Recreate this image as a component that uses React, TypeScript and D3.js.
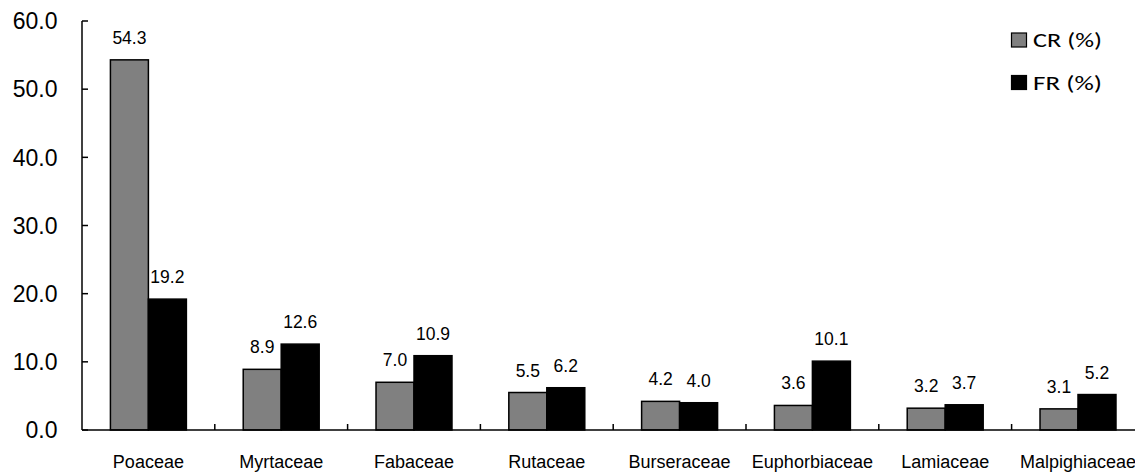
import React from "react";
import * as d3 from "d3";

// Plant families and their CR / FR percentages
const families = [
  "Poaceae",
  "Myrtaceae",
  "Fabaceae",
  "Rutaceae",
  "Burseraceae",
  "Euphorbiaceae",
  "Lamiaceae",
  "Malpighiaceae",
];
const crValues = [54.3, 8.9, 7.0, 5.5, 4.2, 3.6, 3.2, 3.1];
const frValues = [19.2, 12.6, 10.9, 6.2, 4.0, 10.1, 3.7, 5.2];
const seriesNames = ["CR (%)", "FR (%)"];
const seriesColors = ["#808080", "#000000"];
const yTicks = [0, 10, 20, 30, 40, 50, 60];

const W = 1135;
const H = 472;
const left = 82;
const top = 21;
const bottom = 430;
const bandW = 132.8;

export default function App() {
  const x = d3
    .scaleBand<string>()
    .domain(families)
    .range([left, left + bandW * families.length])
    .paddingInner(0)
    .paddingOuter(0);
  const y = d3.scaleLinear().domain([0, 60]).range([bottom, top]);
  const barW = x.bandwidth() * 0.286;
  const inner = d3
    .scaleBand<number>()
    .domain([0, 1])
    .range([x.bandwidth() / 2 - barW, x.bandwidth() / 2 + barW]);

  const series = [crValues, frValues];
  const arial = "Arial, 'Liberation Sans', sans-serif";

  return (
    <svg
      width={W}
      height={H}
      style={{ position: "absolute", left: 0, top: 0, background: "#fff" }}
    >
      <rect x={0} y={0} width={W} height={H} fill="#fff" />

      {/* bars */}
      {families.map((f, i) => (
        <g key={f} transform={`translate(${x(f)},0)`}>
          {series.map((vals, s) => (
            <g key={s}>
              <rect
                x={inner(s)}
                y={y(vals[i])}
                width={inner.bandwidth()}
                height={y(0) - y(vals[i])}
                fill={seriesColors[s]}
                stroke="#000"
                strokeWidth={1.5}
              />
              <text
                x={(inner(s) as number) + inner.bandwidth() / 2}
                y={y(vals[i]) - 16}
                textAnchor="middle"
                fontFamily={arial}
                fontSize={17.5}
                fill="#000"
              >
                {vals[i].toFixed(1)}
              </text>
            </g>
          ))}
        </g>
      ))}

      {/* y axis */}
      <line x1={left} x2={left} y1={y(60)} y2={y(0)} stroke="#000" strokeWidth={1.5} />
      {yTicks.map((t) => (
        <g key={t}>
          <line x1={left} x2={left + 6} y1={y(t)} y2={y(t)} stroke="#000" strokeWidth={1.5} />
          <text
            x={57.5}
            y={y(t)}
            dy="0.36em"
            textAnchor="end"
            fontFamily={arial}
            fontSize={23}
            fill="#000"
          >
            {t.toFixed(1)}
          </text>
        </g>
      ))}

      {/* x axis */}
      <line x1={left} x2={W} y1={y(0)} y2={y(0)} stroke="#000" strokeWidth={1.5} />
      {families.slice(1).map((f) => (
        <line
          key={f}
          x1={x(f)}
          x2={x(f)}
          y1={y(0)}
          y2={y(0) - 6}
          stroke="#000"
          strokeWidth={1.5}
        />
      ))}
      {families.map((f) => (
        <text
          key={f}
          x={(x(f) as number) + x.bandwidth() / 2}
          y={468}
          textAnchor="middle"
          fontFamily={arial}
          fontSize={18}
          fill="#000"
        >
          {f}
        </text>
      ))}

      {/* legend */}
      {seriesNames.map((name, s) => (
        <g key={name} transform={`translate(1011.5,${33 + s * 42.5})`}>
          <rect
            x={0}
            y={0}
            width={15}
            height={14}
            fill={seriesColors[s]}
            stroke="#000"
            strokeWidth={1.2}
          />
          <text
            x={21.5}
            y={14}
            fontFamily="Calibri, Carlito, 'Open Sans', sans-serif"
            fontSize={21}
            textLength={69}
            lengthAdjust="spacingAndGlyphs"
            fill="#000"
          >
            {name}
          </text>
        </g>
      ))}
    </svg>
  );
}
